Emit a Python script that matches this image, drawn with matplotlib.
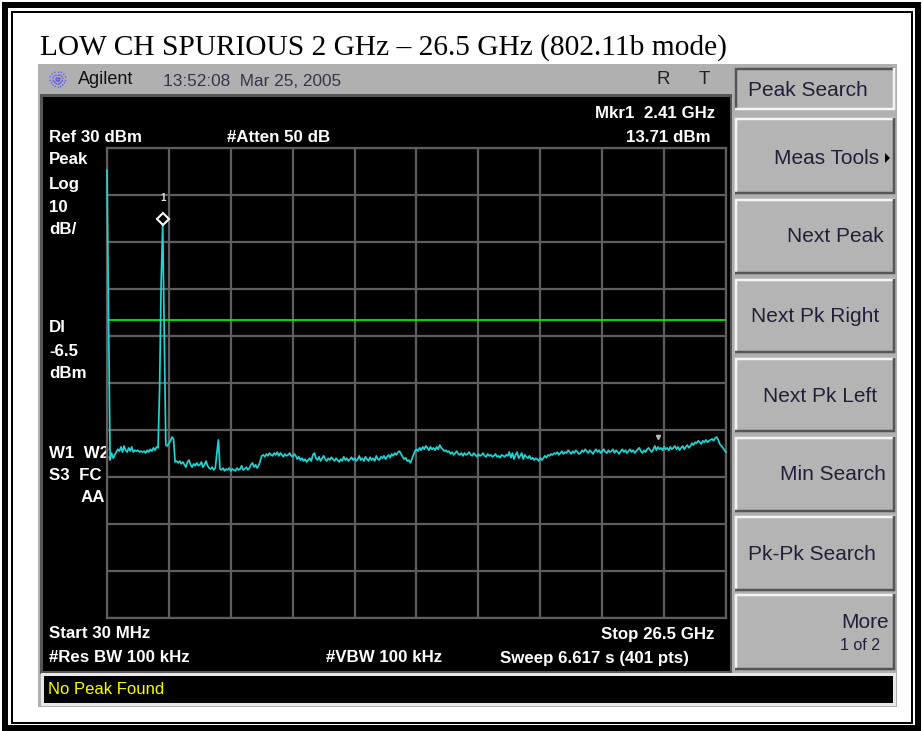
import numpy as np
import matplotlib
matplotlib.use('Agg')
import matplotlib.pyplot as plt
from matplotlib.patches import Rectangle, Polygon
import matplotlib.transforms as mtransforms

# ---------------- data ----------------
start_ghz = 0.03
stop_ghz = 26.5
n_pts = 401
ref_dbm = 30
db_per_div = 10
display_line_dbm = -6.5
marker_freq_ghz = 2.41
marker_dbm = 13.71
aux_marker_freq_ghz = 23.59
aux_marker_dbm = -31.5

trace_dbm = [
    25.3, -6.0, -36.4, -34.9, -36.0, -35.3, -34.7, -34.1, -34.5, -33.6,
    -34.7, -33.4, -34.3, -34.7, -33.8, -34.5, -33.6, -34.7, -34.3, -34.5,
    -34.3, -34.7, -34.5, -34.7, -34.5, -34.9, -34.3, -34.7, -34.1, -34.5,
    -33.8, -34.3, -33.6, -33.8, -21.1, 1.5, 13.71, -9.8, -33.2, -33.4,
    -32.8, -32.3, -31.5, -31.9, -36.8, -36.6, -37.0, -36.6, -37.2, -36.8,
    -37.4, -37.9, -36.8, -36.4, -37.4, -37.9, -37.2, -37.6, -37.0, -37.6,
    -37.4, -36.8, -37.9, -37.4, -36.6, -37.6, -38.1, -38.3, -37.9, -38.5,
    -38.1, -34.9, -32.1, -38.3, -38.5, -38.1, -38.7, -38.3, -38.5, -38.1,
    -38.7, -38.3, -38.5, -38.7, -38.1, -38.5, -38.3, -37.6, -38.5, -38.3,
    -37.9, -38.5, -38.1, -37.4, -37.0, -37.9, -37.4, -38.1, -37.6, -36.6,
    -35.5, -35.3, -35.7, -35.1, -35.5, -34.9, -35.3, -35.5, -34.9, -35.3,
    -34.7, -35.5, -34.9, -35.3, -35.7, -35.1, -35.5, -35.3, -34.9, -35.5,
    -35.7, -35.1, -35.5, -36.2, -35.7, -36.4, -36.0, -36.6, -36.2, -36.8,
    -36.4, -36.0, -36.6, -35.3, -34.9, -36.0, -36.4, -35.7, -36.6, -36.0,
    -35.5, -36.2, -36.6, -36.0, -36.4, -35.8, -36.2, -36.6, -36.0, -36.4,
    -36.8, -36.2, -36.6, -35.7, -36.4, -36.0, -36.6, -36.2, -35.8, -36.4,
    -36.0, -36.6, -36.2, -35.5, -36.4, -36.0, -36.6, -35.7, -36.2, -36.6,
    -35.8, -36.4, -36.0, -36.6, -35.5, -36.2, -36.4, -35.7, -36.0, -35.5,
    -36.2, -35.7, -35.3, -35.9, -35.1, -35.5, -34.9, -35.3, -34.7, -34.5,
    -35.1, -35.7, -36.2, -35.9, -36.6, -36.4, -37.0, -36.2, -35.3, -34.5,
    -34.1, -34.5, -33.8, -34.3, -33.6, -34.1, -33.4, -33.8, -34.3, -33.6,
    -34.1, -33.8, -34.3, -33.6, -34.1, -33.2, -33.8, -34.1, -34.5, -34.3,
    -34.7, -34.5, -35.1, -34.7, -35.3, -34.9, -34.5, -35.1, -35.3, -34.9,
    -35.5, -34.9, -35.3, -35.1, -34.7, -35.3, -35.5, -34.9, -35.3, -35.7,
    -35.1, -35.5, -35.3, -34.9, -35.5, -35.7, -35.1, -35.5, -35.3, -35.7,
    -35.5, -35.1, -35.7, -35.5, -35.9, -35.3, -35.5, -35.7, -35.3, -35.5,
    -34.7, -35.9, -34.9, -36.2, -35.3, -34.7, -36.0, -35.5, -34.9, -36.2,
    -35.3, -35.7, -36.0, -35.5, -36.2, -35.9, -36.4, -36.0, -36.2, -36.6,
    -35.9, -36.4, -36.0, -35.5, -35.9, -35.3, -35.5, -35.1, -35.3, -34.9,
    -35.1, -34.7, -35.3, -34.9, -34.5, -35.1, -34.7, -34.9, -34.3, -34.7,
    -35.1, -34.5, -34.9, -34.3, -34.7, -35.1, -34.9, -34.3, -34.7, -34.1,
    -34.5, -34.9, -34.3, -34.7, -35.1, -34.5, -34.1, -34.7, -34.3, -34.9,
    -34.5, -34.1, -34.7, -34.9, -34.3, -34.7, -34.5, -34.1, -34.9, -34.3,
    -34.7, -35.1, -34.5, -34.1, -34.7, -34.3, -34.9, -34.5, -34.1, -34.7,
    -34.3, -34.9, -34.5, -34.1, -33.8, -34.5, -34.9, -34.3, -34.7, -34.1,
    -33.8, -34.3, -34.7, -34.1, -33.4, -34.3, -33.6, -34.1, -33.8, -34.3,
    -33.6, -34.1, -33.8, -34.3, -33.6, -34.1, -33.8, -33.4, -34.1, -33.6,
    -34.3, -33.8, -33.4, -34.1, -33.6, -33.2, -33.8, -33.4, -32.8, -33.2,
    -32.6, -32.8, -32.3, -32.6, -33.0, -32.3, -32.6, -32.1, -32.6, -32.3,
    -32.1, -31.9, -32.3, -31.7, -31.5, -32.1, -33.0, -33.4, -33.8, -34.3,
    -34.7,
]

title_text = "LOW CH SPURIOUS 2 GHz \u2013 26.5 GHz (802.11b mode)"
header_brand = "Agilent"
header_time = "13:52:08  Mar 25, 2005"
softkeys = ["Peak Search", "Meas Tools", "Next Peak", "Next Pk Right",
            "Next Pk Left", "Min Search", "Pk-Pk Search", "More"]
softkey_sub = "1 of 2"
status_msg = "No Peak Found"
left_labels = [("Ref 30 dBm", 137), ("Peak", 160), ("Log", 184), ("10", 207),
               ("dB/", 230), ("Dl", 328), ("-6.5", 351), ("dBm", 373),
               ("W1  W2", 453), ("S3  FC", 476)]

# ---------------- figure ----------------
W, H = 923, 731
fig = plt.figure(figsize=(W / 100, H / 100), dpi=100)
fig.patch.set_facecolor('white')
bg = fig.add_axes([0, 0, 1, 1])
bg.set_xlim(0, W)
bg.set_ylim(H, 0)
bg.axis('off')

PX = 0.72  # points per pixel
SANS = ['Liberation Sans', 'DejaVu Sans']


def rect(x0, y0, x1, y1, fc, ec='none', lw=0, z=1):
    bg.add_patch(Rectangle((x0, y0), x1 - x0, y1 - y0, fc=fc, ec=ec, lw=lw, zorder=z))


# outer double frame
bg.add_patch(Rectangle((5, 5), 913, 723, fill=False, ec='black', lw=6 * PX, zorder=5))
bg.add_patch(Rectangle((11.5, 11.5), 900, 711, fill=False, ec='black', lw=2 * PX, zorder=5))

# title
bg.text(40, 48, title_text, family=['Liberation Serif', 'DejaVu Serif'],
        fontsize=21.2, color='black', va='center', ha='left')

# instrument gray body
rect(38, 64, 897, 707, '#b0b0b0')
# header
bg.text(78, 80, header_brand, family=SANS, fontsize=13, color='#111111', va='center')
bg.text(163, 81, header_time, family=SANS, fontsize=12.4, color='#3a3350', va='center')
bg.text(663, 80, "R", family=SANS, fontsize=13.5, color='#222222', va='center', ha='center')
bg.text(704, 80, "T", family=SANS, fontsize=13.5, color='#222222', va='center', ha='center')
# Agilent spark logo
for ang in np.arange(0, 180, 22.5):
    a = np.deg2rad(ang)
    dx, dy = 9 * np.cos(a), 9 * np.sin(a)
    bg.plot([58 - dx, 58 + dx], [80 - dy, 80 + dy], color='#5a5ae6', lw=1.0,
            ls=(0, (1, 1.2)), zorder=3)

# screen
rect(40, 94, 732, 674, '#555555', z=1)
rect(43, 97, 730, 671, 'black', z=2)
# status bar
rect(41, 673, 896, 706, '#e8e8e8', z=1)
rect(44, 676, 893, 703, 'black', z=2)
bg.text(48, 690, status_msg, family=SANS, fontsize=12, color='#ffff00', va='center', zorder=6)

# softkeys
key_rows = [(68, 110), (118, 194), (199, 274), (279, 353), (358, 432), (437, 512),
            (516, 591), (594, 670)]
KX0, KX1 = 735, 895
for i, (y0, y1) in enumerate(key_rows):
    rect(KX0, y0, KX1, y1, '#b4b4b4', z=2)
    if i == 0:
        tl, br = '#555555', '#f4f4f4'
    else:
        tl, br = '#f4f4f4', '#555555'
    bg.plot([KX0, KX1], [y0 + 1, y0 + 1], color=tl, lw=2.5 * PX, zorder=3, solid_capstyle='butt')
    bg.plot([KX0 + 1, KX0 + 1], [y0, y1], color=tl, lw=2.5 * PX, zorder=3, solid_capstyle='butt')
    bg.plot([KX0, KX1], [y1 - 1, y1 - 1], color=br, lw=2.5 * PX, zorder=3, solid_capstyle='butt')
    bg.plot([KX1 - 1, KX1 - 1], [y0, y1], color=br, lw=2.5 * PX, zorder=3, solid_capstyle='butt')

key_txt = dict(family=SANS, fontsize=15, color='#20203a', va='center', zorder=6)
bg.text(748, 91, softkeys[0], ha='left', **key_txt)
bg.text(879, 158, softkeys[1], ha='right', **key_txt)
bg.add_patch(Polygon([[885, 153], [885, 163], [890, 158]], closed=True, fc='black', ec='none', zorder=6))
bg.text(884, 237, softkeys[2], ha='right', **key_txt)
bg.text(879, 316, softkeys[3], ha='right', **key_txt)
bg.text(877, 396, softkeys[4], ha='right', **key_txt)
bg.text(886, 475, softkeys[5], ha='right', **key_txt)
bg.text(748, 554, softkeys[6], ha='left', **key_txt)
bg.text(889, 623, softkeys[7], ha='right', **key_txt)
bg.text(880, 646, softkey_sub, ha='right', family=SANS, fontsize=11.5, color='#20203a',
        va='center', zorder=6)

# screen annotations
st = dict(family=SANS, fontsize=12.2, color='white', fontweight='bold', va='center', zorder=6)
for txt, yy in left_labels:
    bg.text(49, yy, txt, ha='left', **st)
bg.text(105, 498, "AA", ha='right', **st)
bg.text(227, 137, "#Atten 50 dB", ha='left', **st)
bg.text(715, 114, "Mkr1  2.41 GHz", ha='right', **st)
bg.text(711, 137, "13.71 dBm", ha='right', **st)
bg.text(49, 634, "Start 30 MHz", ha='left', **st)
bg.text(714, 634, "Stop 26.5 GHz", ha='right', **st)
bg.text(49, 658, "#Res BW 100 kHz", ha='left', **st)
bg.text(326, 658, "#VBW 100 kHz", ha='left', **st)
bg.text(500, 658, "Sweep 6.617 s (401 pts)", ha='left', **st)

# ---------------- trace axes ----------------
GX0, GX1, GY0, GY1 = 107, 726, 148, 618
ax = fig.add_axes([GX0 / W, 1 - GY1 / H, (GX1 - GX0) / W, (GY1 - GY0) / H])
ax.set_zorder(10)
ax.set_facecolor('none')
ax.set_xlim(start_ghz, stop_ghz)
ax.set_ylim(ref_dbm - 10 * db_per_div, ref_dbm)
ax.set_xticks(np.linspace(start_ghz, stop_ghz, 11))
ax.set_yticks(np.arange(ref_dbm - 10 * db_per_div, ref_dbm + 1, db_per_div))
ax.tick_params(length=0, labelleft=False, labelbottom=False)
ax.grid(True, color='#5e5e5e', lw=1.6)
ax.set_axisbelow(True)
for s in ax.spines.values():
    s.set_color('#5e5e5e')
    s.set_linewidth(1.6)

freqs = np.linspace(start_ghz, stop_ghz, n_pts)
ax.axhline(display_line_dbm, color='#00ee00', lw=1.3, zorder=3)
ax.plot(freqs, trace_dbm, color='#1fd4d4', lw=1.25, zorder=4, clip_on=False)

off = mtransforms.offset_copy(ax.transData, fig=fig, x=0, y=6, units='dots')
ax.plot([marker_freq_ghz], [marker_dbm], marker='D', ms=6.5, mfc='none', mec='white',
        mew=1.5, transform=off, zorder=6, clip_on=False)
ax.annotate("1", (marker_freq_ghz, marker_dbm), xytext=(0, 19), textcoords='offset points',
            ha='center', va='center', fontsize=7, color='#f0e0e0', family=SANS,
            fontweight='bold', zorder=6)
ax.plot([aux_marker_freq_ghz], [aux_marker_dbm], marker='v', ms=3, color='#bbbbbb',
        zorder=6, clip_on=False, ls='none')

fig.savefig('out.png', dpi=100, facecolor='white')
